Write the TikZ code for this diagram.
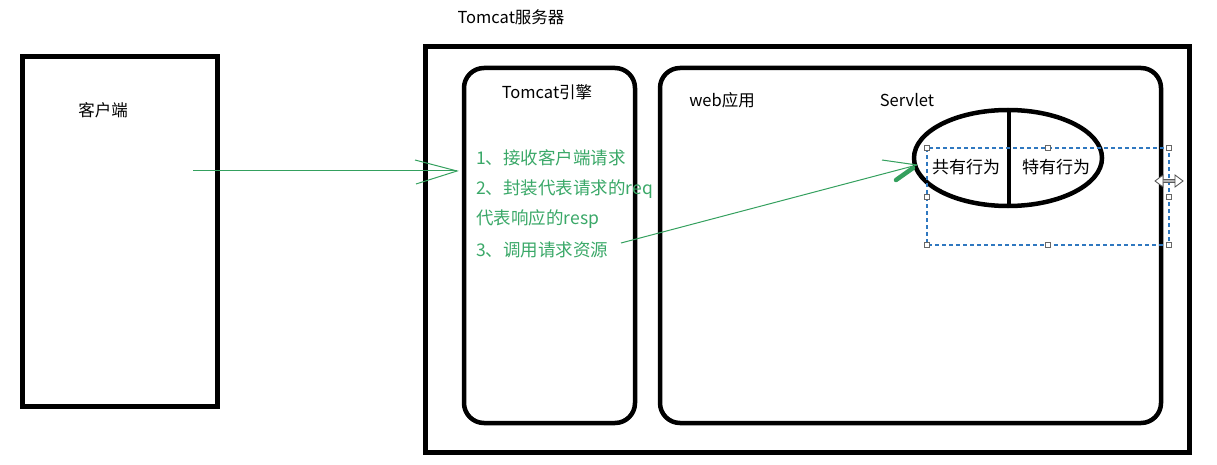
\documentclass[tikz,border=0pt]{standalone}
\usepackage{fontspec}
\setmainfont{Noto Sans CJK SC}
\usetikzlibrary{arrows.meta,shapes.geometric}
\definecolor{grn}{HTML}{34A05E}
\definecolor{gtxt}{HTML}{3AA868}
\definecolor{selblue}{HTML}{2F78C0}
\tikzset{
  thickbox/.style={draw=black, line width=5pt},
  roundbox/.style={draw=black, line width=4.5pt, rounded corners=20pt},
  lbl/.style={font=\fontsize{16.5}{19}\selectfont, text=black, inner sep=0pt},
  gline/.style={font=\fontsize{17.5}{20}\selectfont, text=gtxt, inner sep=0pt, anchor=west},
  garrow/.style={draw=grn, line width=1pt},
  handle/.style={draw=gray!80!black, fill=white, line width=0.7pt, minimum size=5.5pt, inner sep=0pt, rectangle},
}
\begin{document}
\begin{tikzpicture}[x=1pt,y=-1pt]
\useasboundingbox (0,0) rectangle (1217,465);
% client
\draw[thickbox] (22,57) rectangle (217,406);
\node[lbl] (client) at (103,110) {客户端};
% server
\draw[thickbox] (425,47) rectangle (1189,452);
\node[lbl] (server) at (511,17) {Tomcat服务器};
% engine
\draw[roundbox] (464,68) rectangle (635,423);
\node[lbl] (engine) at (547,92) {Tomcat引擎};
\node[gline] (s1) at (476,158) {1、接收客户端请求};
\node[gline] (s2) at (476,189) {2、封装代表请求的req};
\node[gline] (s3) at (476,219) {代表响应的resp};
\node[gline] (s4) at (476,250) {3、调用请求资源};
% web app
\draw[roundbox] (660,68) rectangle (1161,423);
\node[lbl] (web) at (722,100) {web应用};
\node[lbl] (servlet) at (907,100) {Servlet};
% servlet ellipse
\node[draw=black, line width=4.5pt, ellipse, minimum width=188pt, minimum height=96pt, inner sep=0pt] (ell) at (1008,158) {};
\draw[line width=4pt] (1009,109) -- (1009,206);
\node[lbl, font=\fontsize{17}{19}\selectfont] (common) at (966,167) {共有行为};
\node[lbl, font=\fontsize{17}{19}\selectfont] (special) at (1056,167) {特有行为};
% selection box
\coordinate (sa) at (927,148);
\coordinate (sb) at (1169,245);
\draw[selblue, line width=1.2pt, dash pattern=on 4pt off 3pt] (sa) rectangle (sb);
\foreach \p in {(927,148),(1048,148),(1169,148),(927,197),(1169,197),(927,245),(1048,245),(1169,245)}
  \node[handle] at \p {};
\draw[gray!70!black, line width=3.5pt] (1160,181) -- (1178,181);
\draw[gray!60, line width=2pt] (1160,181) -- (1178,181);
\fill[white, draw=gray!60!black, line width=0.8pt] (1155,181) -- (1163,175) -- (1163,187) -- cycle;
\fill[white, draw=gray!60!black, line width=0.8pt] (1183,181) -- (1175,175) -- (1175,187) -- cycle;
% arrow client -> engine
\coordinate (a0) at (193,171);
\coordinate (a1) at (457,171);
\draw[garrow] (a0) -- (a1);
\draw[garrow] (415,160) -- (a1) -- (416,184);
% arrow engine -> servlet
\coordinate (b0) at (621,243);
\coordinate (b1) at (917,165);
\draw[garrow] (b0) -- (b1);
\draw[garrow] (882,160) -- (b1);
\draw[grn, line width=4.5pt, line cap=round] (896,180) -- (913,168);
\end{tikzpicture}
\end{document}
